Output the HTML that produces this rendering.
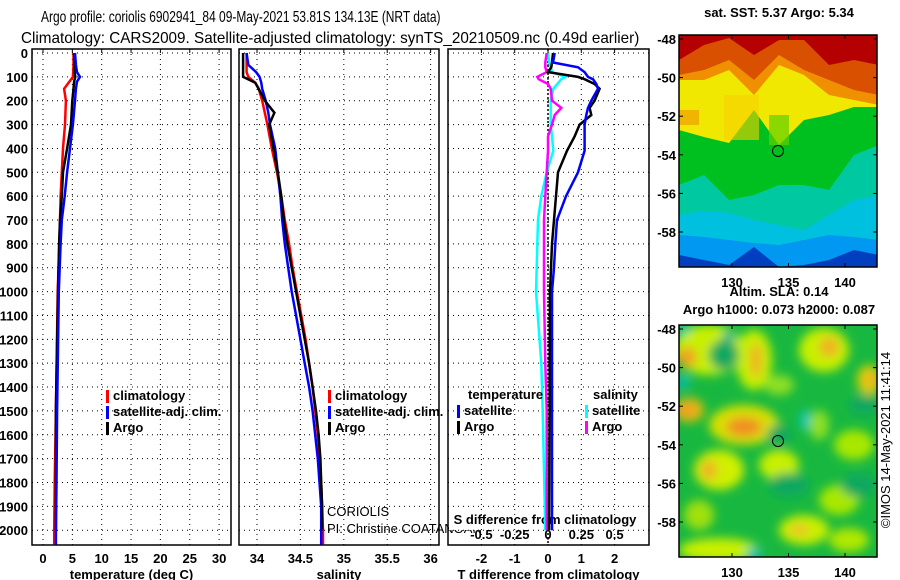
<!DOCTYPE html>
<html><head><meta charset="utf-8">
<style>
html,body{margin:0;padding:0;background:#fff;}
svg{display:block;font-family:"Liberation Sans",sans-serif;}
.t{font-weight:bold;font-size:13px;}
</style></head>
<body>
<svg id="fig" width="900" height="580" viewBox="0 0 900 580" xmlns="http://www.w3.org/2000/svg">
<text id="tl1" x="0" y="0" font-size="16">Argo profile: coriolis 6902941_84 09-May-2021 53.81S 134.13E (NRT data)</text>
<text id="tl2" x="0" y="0" font-size="16">Climatology: CARS2009. Satellite-adjusted climatology: synTS_20210509.nc (0.49d earlier)</text>
<g id="p1"></g>
<g id="p2"></g>
<g id="p3"></g>
<g id="maps"></g>
<text transform="translate(890,440) rotate(-90)" text-anchor="middle" font-size="13">©IMOS 14-May-2021 11:41:14</text>
</svg>
<script>
// ---- data ----
const depthT = [0,50,80,100,120,150,200,300,400,500,600,700,800,1000,1500,1800,2000,2060];
const tempClim = [5.2,5.2,5.15,5.1,4.5,3.6,3.9,3.75,3.4,3.2,3.0,2.9,2.8,2.5,2.2,2.0,1.9,1.9];
const tempSat = [5.45,5.6,5.8,6.3,5.8,5.6,5.45,5.1,4.6,4.1,3.7,3.2,3.0,2.7,2.4,2.3,2.2,2.2];
const tempArgo = [5.3,5.35,5.4,5.5,5.3,5.2,5.0,4.77,4.1,3.4,3.2,2.9,2.75,2.55,2.2,2.2,2.2];
const depthS = [0,50,80,100,125,150,200,250,300,400,500,600,700,800,900,1000,1100,1200,1300,1400,1500,1600,1700,1800,1900,2000,2060];
const salClim = [33.88,33.88,33.88,33.9,33.98,34.02,34.06,34.09,34.12,34.17,34.23,34.28,34.32,34.37,34.41,34.46,34.51,34.56,34.6,34.64,34.67,34.7,34.72,34.74,34.75,34.76,34.76];
const salSat = [33.88,33.9,33.99,34.03,34.05,34.06,34.1,34.13,34.15,34.21,34.24,34.27,34.29,34.32,34.36,34.4,34.45,34.5,34.55,34.6,34.64,34.67,34.7,34.72,34.74,34.74,34.74];
const salArgo = [33.84,33.84,33.84,33.84,33.98,34.02,34.09,34.2,34.14,34.19,34.24,34.28,34.31,34.35,34.4,34.45,34.5,34.55,34.6,34.64,34.68,34.71,34.73,34.74,34.75,34.75];
const depthD = [0,40,60,80,100,110,130,150,200,230,260,300,350,410,500,600,700,800,900,1000,1300,1500,2000];
const dTArgo = [0.15,0.12,0.1,0.0,0.9,1.1,1.4,1.55,1.4,1.25,1.3,0.95,0.8,0.57,0.3,0.24,0.18,0.12,0.09,0.06,0.05,0.05,0.03];
const dTSat = [0.2,0.15,0.9,1.1,1.2,1.35,1.45,1.5,1.3,1.2,1.15,1.1,1.1,1.1,0.9,0.54,0.27,0.22,0.18,0.12,0.12,0.12,0.12];
const dSArgo = [-0.01,-0.02,-0.02,-0.01,-0.08,-0.07,0.0,0.02,0.03,0.1,0.05,0.03,0.0,0.0,-0.01,-0.02,-0.03,-0.03,-0.03,-0.03,-0.02,-0.01,-0.01];
const dSSat = [0.0,0.01,0.02,0.03,0.13,0.1,0.07,0.04,0.02,0.02,0.02,0.02,0.03,0.04,-0.01,-0.05,-0.075,-0.08,-0.085,-0.09,-0.05,-0.04,-0.02];
const depthTicks = [0,100,200,300,400,500,600,700,800,900,1000,1100,1200,1300,1400,1500,1600,1700,1800,1900,2000];
const tempTicks = [0,5,10,15,20,25,30];
const salTicks = [34,34.5,35,35.5,36];
const tdTicks = [-2,-1,0,1,2];
const sdTickLabels = ["-0.5","-0.25","0","0.25","0.5"];
const latTicks = [-48,-50,-52,-54,-56,-58];
const lonTicks = [130,135,140];

const NS="http://www.w3.org/2000/svg";
function mk(parent,tag,attrs,text){const e=document.createElementNS(NS,tag);for(const k in attrs)e.setAttribute(k,attrs[k]);if(text!==undefined)e.textContent=text;parent.appendChild(e);return e;}
function fitTitle(id,x,y,w){
  const e=document.getElementById(id);
  const L=e.getComputedTextLength()||w;
  e.setAttribute('transform','translate('+x+','+y+') scale('+(w/L).toFixed(4)+',1)');
}
fitTitle('tl1',41,22,400);
fitTitle('tl2',21,43,619);
const yD = d => 53 + d*0.2386;
const TOP=49, BOT=545;
function path(xs,ds,fx){return xs.map((v,i)=>(i?'L':'M')+fx(v).toFixed(1)+','+yD(ds[i]).toFixed(1)).join('');}

function panel(g,x0,x1,fx,gridVals,tickVals,tickLabels,title,depthLabels){
  mk(g,'rect',{x:x0,y:TOP,width:x1-x0,height:BOT-TOP,fill:'none',stroke:'#000','stroke-width':1.5});
  depthTicks.forEach(d=>{
    const l=mk(g,'line',{x1:x0,x2:x1,y1:yD(d),y2:yD(d),stroke:'#000','stroke-dasharray':'1 4'});
    
    
    if(depthLabels){
      const t=mk(g,'text',{x:28,y:yD(d)+5,'text-anchor':'end',class:'t'},d);
      
      
    }
  });
  gridVals.forEach(v=>{
    const l=mk(g,'line',{x1:fx(v),x2:fx(v),y1:TOP,y2:BOT,stroke:'#000','stroke-dasharray':'1 4'});
    
    
    mk(g,'line',{x1:fx(v),x2:fx(v),y1:TOP,y2:TOP+4,stroke:'#000'});
  });
  tickVals.forEach((v,i)=>{
    const t=mk(g,'text',{x:fx(v),y:563,'text-anchor':'middle',class:'t'},tickLabels[i]);
    
    
  });
  const tt=mk(g,'text',{x:(x0+x1)/2,y:579,'text-anchor':'middle',class:'t'},title);
  
  
}
function series(g,vals,ds,fx,color,name){
  const p=mk(g,'path',{d:path(vals,ds,fx),fill:'none',stroke:color,'stroke-width':2.5,'stroke-linejoin':'miter'});
  
  
}
function legend(g,x,y,items){
  items.forEach((it,i)=>{
    mk(g,'rect',{x:x,y:y+i*16-10,width:3,height:13,fill:it[1]});
    const t=mk(g,'text',{x:x+7,y:y+i*16,class:'t'},it[0]);
    
    
  });
}
// Panel 1
const fT=v=>43+v*5.87;
const p1=document.getElementById('p1');
panel(p1,32,231,fT,tempTicks,tempTicks,tempTicks,'temperature (deg C)',true);
series(p1,tempClim,depthT,fT,'#ff0000','climatology-temp-line');
series(p1,tempArgo,depthT,fT,'#000','argo-temp-line');
series(p1,tempSat,depthT,fT,'#0000ff','satellite-temp-line');
legend(p1,106,400,[['climatology','#ff0000'],['satellite-adj. clim.','#0000ff'],['Argo','#000']]);
// Panel 2
const fS=v=>257+(v-34)*86.8;
const p2=document.getElementById('p2');
panel(p2,239,439,fS,salTicks,salTicks,salTicks,'salinity',false);
series(p2,salClim,depthS,fS,'#ff0000','climatology-sal-line');
series(p2,salSat,depthS,fS,'#0000ff','satellite-sal-line');
series(p2,salArgo,depthS,fS,'#000','argo-sal-line');
legend(p2,328,400,[['climatology','#ff0000'],['satellite-adj. clim.','#0000ff'],['Argo','#000']]);
mk(p2,'text',{x:327,y:516,'font-size':13},'CORIOLIS');
mk(p2,'text',{x:327,y:533,'font-size':13},'PI: Christine COATANOAN');
// Panel 3
const fD=v=>548+v*33.3;
const fDS=v=>548+v*133.2;
const p3=document.getElementById('p3');
mk(p3,'rect',{x:449,y:500,width:200,height:30,fill:'#fff'});
panel(p3,448,649,fD,tdTicks,tdTicks,tdTicks,'T difference from climatology',false);
const st=mk(p3,'text',{x:545,y:524,'text-anchor':'middle',class:'t'},'S difference from climatology');


tdTicks.forEach((v,i)=>{
  const t=mk(p3,'text',{x:fD(v),y:539,'text-anchor':'middle',class:'t'},sdTickLabels[i]);
  
  
});
mk(p3,'line',{x1:548,x2:548,y1:TOP,y2:BOT,stroke:'#000','stroke-width':1.5,'stroke-dasharray':'2 2'});
series(p3,dSSat,depthD,fDS,'#00ffff','satellite-sal-diff-line');
series(p3,dSArgo,depthD,fDS,'#ff00ff','argo-sal-diff-line');
series(p3,dTArgo,depthD,fD,'#000','argo-temp-diff-line');
series(p3,dTSat,depthD,fD,'#0000ff','satellite-temp-diff-line');
mk(p3,'text',{x:468,y:399,class:'t'},'temperature');
legend(p3,457,415,[['satellite','#0000ff'],['Argo','#000']]);
mk(p3,'text',{x:593,y:399,class:'t'},'salinity');
legend(p3,585,415,[['satellite','#00ffff'],['Argo','#ff00ff']]);

// ---- maps ----
const maps=document.getElementById('maps');
const defs=mk(maps,'defs',{});
const cp1=mk(defs,'clipPath',{id:'c1'});mk(cp1,'rect',{x:0,y:0,width:198,height:232});
const flt=mk(defs,'filter',{id:'bl',x:'-20%',y:'-20%',width:'140%',height:'140%'});mk(flt,'feGaussianBlur',{stdDeviation:5});
const fx=[0,25,50,75,100,125,150,175,200];
function band(g,ys,col){
  let d='M0,'+ys[0];
  ys.forEach((y,i)=>{d+='L'+fx[i]+','+y;});
  d+='L200,240L0,240Z';
  mk(g,'path',{d:d,fill:col});
}
function mapAxes(x0,y0,title,tlines){
  mk(maps,'rect',{x:x0,y:y0,width:198,height:232,fill:'none',stroke:'#000','stroke-width':1.5});
  latTicks.forEach((lat,i)=>{
    const y=y0+4+i*38.6;
    mk(maps,'line',{x1:x0,x2:x0+4,y1:y,y2:y,stroke:'#000'});
    mk(maps,'line',{x1:x0+198,x2:x0+194,y1:y,y2:y,stroke:'#000'});
    const t=mk(maps,'text',{x:x0-3,y:y+5,'text-anchor':'end',class:'t'},lat);
    
    
  });
  lonTicks.forEach(lon=>{
    const x=x0+53+(lon-130)*11.3;
    mk(maps,'line',{x1:x,x2:x,y1:y0,y2:y0+4,stroke:'#000'});
    mk(maps,'line',{x1:x,x2:x,y1:y0+232,y2:y0+228,stroke:'#000'});
    const t=mk(maps,'text',{x:x,y:y0+252,'text-anchor':'middle',class:'t'},lon);
    
    
  });
  tlines.forEach((s,i)=>{mk(maps,'text',{x:title,y:s[1],'text-anchor':'middle',class:'t'},s[0]);});
  mk(maps,'circle',{cx:x0+99,cy:y0+116,r:5.5,fill:'none',stroke:'#000','stroke-width':1});
}
// SST map
const g1=mk(maps,'g',{transform:'translate(679,35)','clip-path':'url(#c1)'});


mk(g1,'rect',{x:0,y:0,width:200,height:240,fill:'#b40000'});
band(g1,[25,10,3,20,5,5,30,25,30],'#d85000');
band(g1,[40,35,25,45,20,35,45,55,60],'#f09000');
band(g1,[45,45,35,60,30,40,60,65,70],'#f0e800');
band(g1,[95,102,108,75,110,85,80,72,72],'#00c020');
band(g1,[150,140,165,160,150,150,155,120,110],'#00c8a0');
band(g1,[180,176,178,185,190,195,180,165,160],'#00c0e0');
band(g1,[200,202,205,208,210,205,200,202,205],'#0098f0');
band(g1,[220,225,230,212,232,230,225,215,220],'#0040c0');
mk(g1,'rect',{x:0,y:75,width:20,height:15,fill:'#f0a000',opacity:0.7});
mk(g1,'rect',{x:45,y:60,width:35,height:45,fill:'#f8d000',opacity:0.6});
mk(g1,'rect',{x:90,y:80,width:20,height:30,fill:'#60d000',opacity:0.7});
mapAxes(679,35,779,[['sat. SST: 5.37 Argo: 5.34',17],['Altim. SLA: 0.14',296]]);
// SLA map
const g2=mk(maps,'g',{transform:'translate(679,325)','clip-path':'url(#c1)'});


mk(g2,'rect',{x:0,y:0,width:200,height:240,fill:'#18b840'});
const g2b=mk(g2,'g',{filter:'url(#bl)'});
[[30,25,35,25,'#c8f000'],[75,35,18,30,'#c8f000'],[145,25,25,22,'#c8f000'],[190,55,12,15,'#e0d000'],
 [10,85,15,12,'#e8c000'],[65,100,35,20,'#d8e000'],[100,140,20,15,'#c8f000'],[40,145,25,20,'#d0f000'],
 [125,205,25,15,'#c8f000'],[40,225,40,12,'#c8f000'],[175,120,20,15,'#a8e800'],[160,175,20,15,'#a8e800'],
 [100,60,15,10,'#90e020'],[20,190,15,15,'#a0e010'],[170,215,20,12,'#b0e800'],[140,100,10,15,'#90e020']].forEach(b=>
  mk(g2b,'ellipse',{cx:b[0],cy:b[1],rx:b[2],ry:b[3],fill:b[4]}));
[[8,32,10,10,'#f0a020'],[77,35,6,18,'#f0b020'],[150,22,10,10,'#f0b020'],[192,55,6,8,'#f0b020'],
 [8,85,10,8,'#f0a020'],[65,102,18,10,'#f09020'],[30,145,8,10,'#f0b020'],[120,205,10,6,'#f0c020'],
 [45,30,15,15,'#10a860'],[100,110,12,10,'#10a860'],[110,160,20,12,'#10a860'],[180,160,18,12,'#10a860'],[185,80,15,10,'#10a860'],
 [4,57,6,6,'#00c0d0'],[126,95,5,10,'#00c8c0'],[75,230,8,8,'#00c0b0'],[5,5,5,5,'#00c8c0'],[50,12,6,6,'#00b090']].forEach(b=>
  mk(g2b,'ellipse',{cx:b[0],cy:b[1],rx:b[2],ry:b[3],fill:b[4]}));
mapAxes(679,325,779,[['Argo h1000: 0.073 h2000: 0.087',314]]);
</script>
</body></html>
